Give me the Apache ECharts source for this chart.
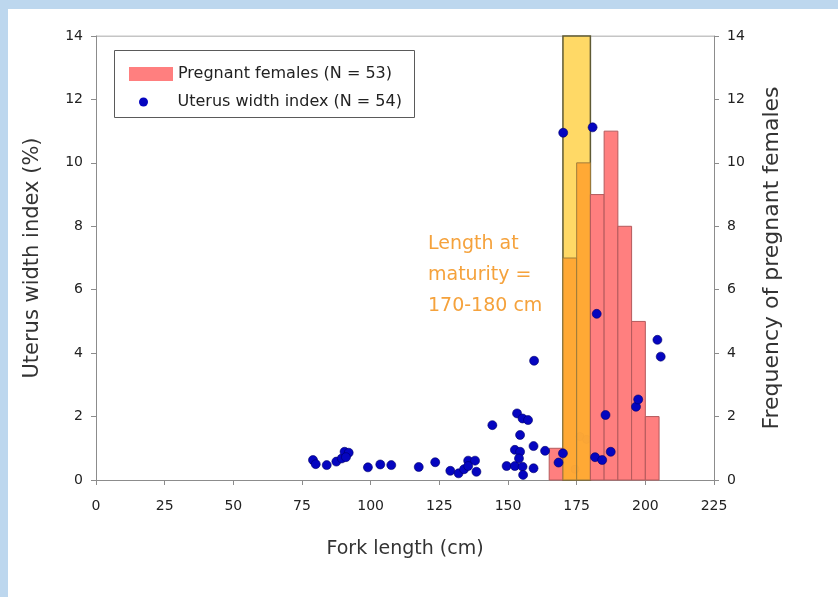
<!DOCTYPE html>
<html>
<head>
<meta charset="utf-8">
<script src="https://cdn.jsdelivr.net/npm/echarts@6/dist/echarts.min.js"></script>
<style>
  html, body { margin: 0; padding: 0; }
  body { width: 838px; height: 597px; background: #bdd7ee; position: relative; overflow: hidden; }
  #frame { position: absolute; left: 8px; top: 9px; width: 830px; height: 588px; background: #fff; }
  #myChart { width: 830px; height: 588px; }
</style>
</head>
<body>
<div id="frame"><div id="myChart"></div></div>
<script>
// histogram of pregnant females (5 cm bins)
var binStarts = [165, 170, 175, 180, 185, 190, 195, 200];
var binCounts = [1, 7, 10, 9, 11, 8, 5, 2];
var binWidth = 5;
var maturityRange = [170, 180];

// uterus width index points
var uwiLength = [79, 80, 84, 87.5, 89.5, 90.5, 92, 91, 99, 103.5, 107.5, 117.5,
  123.5, 129, 132, 134, 135.5, 138, 138.5, 135.5, 144.3, 153.3, 155.3, 157.3,
  154.4, 159.5, 159.3, 163.5, 152.5, 154.4, 149.5, 152.5, 155.3, 159.3, 155.5,
  154, 168.4, 170, 170.1, 180.8, 181.7, 184.3, 187.4, 185.5, 182.3, 196.6,
  197.4, 204.4, 205.6];
var uwiValue = [0.63, 0.5, 0.47, 0.58, 0.68, 0.89, 0.86, 0.72, 0.4, 0.49, 0.47, 0.41,
  0.56, 0.29, 0.21, 0.34, 0.61, 0.61, 0.26, 0.44, 1.73, 2.1, 1.94, 1.89,
  1.42, 3.76, 1.07, 0.92, 0.95, 0.89, 0.44, 0.44, 0.42, 0.37, 0.16,
  0.68, 0.55, 0.84, 10.95, 11.12, 0.72, 0.63, 0.89, 2.05, 5.24, 2.31,
  2.54, 4.42, 3.89];
// points that sit behind the maturity band (drawn faded)
var hiddenLength = [176.2, 178.6, 174.4];
var hiddenValue = [1.37, 1.28, 0.34];

var xMin = 0, xMax = 225, xStep = 25;
var yMin = 0, yMax = 14, yStep = 2;

var barName = 'Pregnant females (N = 53)';
var dotName = 'Uterus width index (N = 54)';

var myChart = echarts.init(document.getElementById('myChart'));

var binData = binStarts.map(function (s, i) { return [s, s + binWidth, binCounts[i]]; });
var dotData = uwiLength.map(function (x, i) { return [x, uwiValue[i]]; });
var hiddenData = hiddenLength.map(function (x, i) {
  return { value: [x, hiddenValue[i]], itemStyle: { color: '#a39179', borderColor: '#7d6e5a', opacity: 0.85 } };
});

function inBand(s) { return s >= maturityRange[0] && s < maturityRange[1]; }

var fontName = 'DejaVu Sans';
var axisFont = { fontFamily: fontName, fontSize: 14, color: '#222' };
var nameFont = { fontFamily: fontName, color: '#333' };
var lineStyle = { color: '#8c8c8c', width: 1 };

myChart.setOption({
  animation: false,
  textStyle: { fontFamily: fontName },
  grid: { left: 88, top: 27, width: 618, height: 444, show: false },
  legend: [{
    data: [{ name: barName, icon: 'rect' }],
    left: 116, top: 52, orient: 'vertical',
    itemWidth: 44, itemHeight: 14,
    itemStyle: { borderWidth: 0 },
    textStyle: { fontSize: 16, color: '#222', fontFamily: fontName }
  }, {
    data: [{ name: dotName, icon: 'circle' }],
    left: 126, top: 80, orient: 'vertical',
    itemWidth: 58, itemHeight: 9,
    itemStyle: { borderWidth: 0 },
    textStyle: { fontSize: 16, color: '#222', fontFamily: fontName }
  }],
  graphic: [{
    type: 'rect', left: 104, top: 39, z: 100,
    shape: { width: 300, height: 67 },
    style: { fill: 'none', stroke: '#5a5a5a', lineWidth: 1 }
  }, {
    type: 'text', left: 420, top: 220, z: 100,
    style: {
      text: 'Length at\nmaturity =\n170-180 cm',
      fill: '#f5a23c', font: '19px "DejaVu Sans"', lineHeight: 31
    }
  }],
  xAxis: {
    type: 'value', min: xMin, max: xMax, interval: xStep,
    name: 'Fork length (cm)', nameLocation: 'middle', nameGap: 60,
    nameTextStyle: Object.assign({ fontSize: 19 }, nameFont),
    axisLine: { show: true, lineStyle: lineStyle },
    axisTick: { show: true, length: 5, lineStyle: lineStyle },
    axisLabel: Object.assign({ margin: 19 }, axisFont),
    splitLine: { show: false }
  },
  yAxis: [{
    type: 'value', min: yMin, max: yMax, interval: yStep, position: 'left',
    name: 'Uterus width index (%)', nameLocation: 'middle', nameGap: 53, nameRotate: 90,
    nameTextStyle: Object.assign({ fontSize: 21 }, nameFont),
    axisLine: { show: true, lineStyle: lineStyle },
    axisTick: { show: true, length: 5, lineStyle: lineStyle },
    axisLabel: Object.assign({ margin: 13 }, axisFont),
    splitLine: { show: false }
  }, {
    type: 'value', min: yMin, max: yMax, interval: yStep, position: 'right',
    name: 'Frequency of pregnant females', nameLocation: 'middle', nameGap: 47, nameRotate: 90,
    nameTextStyle: Object.assign({ fontSize: 22 }, nameFont),
    axisLine: { show: true, lineStyle: lineStyle },
    axisTick: { show: true, length: 5, lineStyle: lineStyle },
    axisLabel: Object.assign({ margin: 13 }, axisFont),
    splitLine: { show: false }
  }],
  series: [{
    // top border of the plot box
    type: 'line', xAxisIndex: 0, yAxisIndex: 0, silent: true, symbol: 'none',
    data: [[xMin, yMax], [xMax, yMax]],
    lineStyle: { color: '#8c8c8c', width: 1 }, z: 1
  }, {
    // maturity band
    type: 'custom', name: 'band', yAxisIndex: 1, z: 2, silent: true,
    data: [[maturityRange[0], maturityRange[1], yMax]],
    renderItem: function (params, api) {
      var p0 = api.coord([api.value(0), api.value(2)]);
      var p1 = api.coord([api.value(1), 0]);
      return {
        type: 'rect',
        shape: { x: p0[0], y: p0[1], width: p1[0] - p0[0], height: p1[1] - p0[1] },
        style: { fill: '#ffd966', stroke: '#5e5a34', lineWidth: 1.5 }
      };
    }
  }, {
    type: 'scatter', name: 'hidden', yAxisIndex: 0, z: 3, silent: true,
    symbolSize: 8, data: hiddenData
  }, {
    type: 'custom', name: barName, yAxisIndex: 1, z: 4,
    itemStyle: { color: '#ff7f7f' },
    encode: { x: [0, 1], y: 2 },
    data: binData,
    renderItem: function (params, api) {
      var s = api.value(0);
      var p0 = api.coord([s, api.value(2)]);
      var p1 = api.coord([api.value(1), 0]);
      var orange = inBand(s);
      return {
        type: 'rect',
        shape: { x: p0[0], y: p0[1], width: p1[0] - p0[0], height: p1[1] - p0[1] },
        style: {
          fill: orange ? '#ffa733' : '#ff7f7f',
          stroke: orange ? '#9c7a3a' : '#b45a5c',
          lineWidth: 1,
          opacity: orange ? 0.95 : 1
        }
      };
    }
  }, {
    type: 'scatter', name: dotName, yAxisIndex: 0, z: 5,
    symbolSize: 9,
    itemStyle: { color: '#0505c0', borderColor: '#00006a', borderWidth: 0.6, opacity: 1 },
    data: dotData
  }]
});
</script>
</body>
</html>
